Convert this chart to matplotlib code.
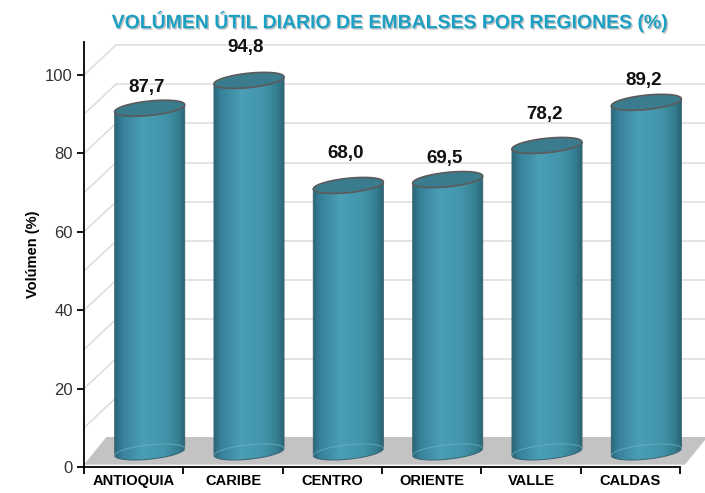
import numpy as np
import matplotlib
matplotlib.use("Agg")
import matplotlib.pyplot as plt
from matplotlib import font_manager
from matplotlib.patches import Polygon
from matplotlib.colors import LinearSegmentedColormap
import matplotlib.patheffects as pe

# ---------------- data ----------------
categories = ["ANTIOQUIA", "CARIBE", "CENTRO", "ORIENTE", "VALLE", "CALDAS"]
values = [87.7, 94.8, 68.0, 69.5, 78.2, 89.2]
value_labels = ["87,7", "94,8", "68,0", "69,5", "78,2", "89,2"]
y_ticks = [0, 20, 40, 60, 80, 100]
title = "VOLÚMEN ÚTIL DIARIO DE EMBALSES POR REGIONES (%)"
y_label = "Volúmen (%)"

# ---------------- style ----------------
label_offsets = [9.0, 12.1, 12.1, 9.3, 11.85, 9.5]  # label height above value

names = {f.name for f in font_manager.fontManager.ttflist}
narrow = "Liberation Sans Narrow" if "Liberation Sans Narrow" in names else "Liberation Sans"
plt.rcParams['font.family'] = [narrow, 'DejaVu Sans']

W, H = 705, 493
fig = plt.figure(figsize=(W / 100, H / 100), dpi=100)
left_px, right_px, bottom_px, top_px = 84, 705, 26, 451
ax = fig.add_axes([left_px / W, bottom_px / H, (right_px - left_px) / W, (top_px - bottom_px) / H])

px_per_cat = (680 - 84) / 6.0
px_per_val = (467 - 75) / 100.0
xmax = (right_px - left_px) / px_per_cat
ymax = (top_px - bottom_px) / px_per_val

# depth offset (3D effect)
ddx = 32 / px_per_cat
ddy = 30 / px_per_val

grid_c = "#dcdcdc"
# back wall gridlines and left wall diagonals
for v in range(10, 101, 10):
    ax.plot([ddx, xmax + 1], [v + ddy, v + ddy], color=grid_c, lw=1.1, zorder=1, clip_on=True)
    ax.plot([0, ddx], [v, v + ddy], color=grid_c, lw=1.1, zorder=1)

# floor
floor_right = 6.05
floor = Polygon([(0, 0.6), (floor_right, 0.6), (floor_right + ddx * 0.7, ddy), (ddx * 0.7, ddy)],
                closed=True, facecolor="#c3c3c3", edgecolor="none", zorder=2)
ax.add_patch(floor)

# cylinders
cmap = LinearSegmentedColormap.from_list("cyl", [
    (0.0, "#2a6678"), (0.1, "#37809a"), (0.38, "#4a9fb4"),
    (0.7, "#4295aa"), (0.9, "#347d90"), (1.0, "#285f70")])
grad = np.linspace(0, 1, 256).reshape(1, -1)

a = 0.3525
b = 7.2 / px_per_val
k = 3.5 / px_per_val
t_front = np.linspace(np.pi, 2 * np.pi, 80)
t_full = np.linspace(0, 2 * np.pi, 160)

for i, v in enumerate(values):
    cx = i + 0.5 + ddx / 2
    y0 = ddy / 2
    yt = v + ddy / 2
    top_front = np.column_stack([cx + a * np.cos(t_front), yt + b * np.sin(t_front) + k * np.cos(t_front)])
    bot_front = np.column_stack([cx + a * np.cos(t_front), y0 + b * np.sin(t_front) + k * np.cos(t_front)])
    body_pts = np.vstack([[cx - a, y0 - k], top_front, [cx + a, y0 + k], bot_front[::-1]])
    body = Polygon(body_pts, closed=True, facecolor="none", edgecolor="#3b6473", lw=0.7, zorder=4)
    ax.add_patch(body)
    im = ax.imshow(grad, extent=[cx - a, cx + a, y0 - 4, yt + 4], aspect="auto", cmap=cmap,
                   zorder=3, interpolation="bilinear")
    im.set_clip_path(body)
    # faint back half of base ellipse (transparency effect)
    t_back = np.linspace(0, np.pi, 80)
    ax.plot(cx + a * np.cos(t_back), y0 + b * np.sin(t_back) + k * np.cos(t_back),
            color="#6fb8c9", lw=0.8, alpha=0.6, zorder=4)
    # top ellipse
    top = Polygon(np.column_stack([cx + a * np.cos(t_full), yt + b * np.sin(t_full) + k * np.cos(t_full)]),
                  closed=True, facecolor="#3a7b8d", edgecolor="#5b5b5b", lw=1.2, zorder=5)
    ax.add_patch(top)
    ax.text(cx - 0.03, v + label_offsets[i], value_labels[i], ha="center", va="center",
            fontsize=13.5, fontweight="bold", color="#111111", zorder=6)

ax.set_xlim(0, xmax)
ax.set_ylim(0, ymax)

for s in ["top", "right"]:
    ax.spines[s].set_visible(False)
ax.spines["bottom"].set_bounds(0, 6)
ax.spines["left"].set_linewidth(1.3)
ax.spines["bottom"].set_linewidth(1.3)
ax.spines["bottom"].set_zorder(7)

ax.set_yticks(y_ticks)
ax.set_yticklabels([str(t) for t in y_ticks])
ax.tick_params(axis="y", direction="out", length=5, width=1.3, pad=3, labelsize=12, labelcolor="#333333")
ax.set_xticks(range(7))
ax.set_xticklabels([""] * 7)
ax.set_xticks([i + 0.5 for i in range(6)], minor=True)
ax.set_xticklabels(categories, minor=True, fontsize=10.5, fontweight="bold")
ax.tick_params(axis="x", which="major", direction="out", length=5, width=1.3)
ax.tick_params(axis="x", which="minor", length=0, pad=5)

ax.set_ylabel(y_label, fontsize=10.5, fontweight="bold", labelpad=4)

t = fig.text(390 / W, 1 - 22 / H, title, ha="center", va="center", fontsize=14,
             fontweight="bold", color="#1ba0c4")
t.set_path_effects([pe.withSimplePatchShadow(offset=(1, -1), shadow_rgbFace="#555555", alpha=0.35)])

fig.savefig("out.png", dpi=100)
